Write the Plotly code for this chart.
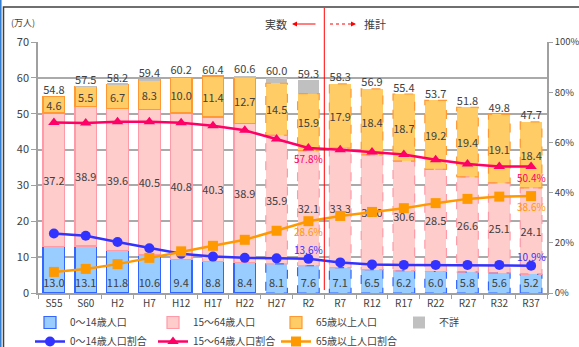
import plotly.graph_objects as go

categories = ["S55", "S60", "H2", "H7", "H12", "H17", "H22", "H27", "R2",
              "R7", "R12", "R17", "R22", "R27", "R32", "R37"]
pop_young = [13.0, 13.1, 11.8, 10.6, 9.4, 8.8, 8.4, 8.1, 7.6, 7.1, 6.5, 6.2, 6.0, 5.8, 5.6, 5.2]
pop_working = [37.2, 38.9, 39.6, 40.5, 40.8, 40.3, 38.9, 35.9, 32.1, 33.3, 32.0, 30.6, 28.5, 26.6, 25.1, 24.1]
pop_elderly = [4.6, 5.5, 6.7, 8.3, 10.0, 11.4, 12.7, 14.5, 15.9, 17.9, 18.4, 18.7, 19.2, 19.4, 19.1, 18.4]
pop_unknown = [0.0, 0.1, 0.3, 0.2, 0.0, 0.0, 0.6, 1.5, 3.7, 0, 0, 0, 0, 0, 0, 0]
pop_total = [54.8, 57.5, 58.2, 59.4, 60.2, 60.4, 60.6, 60.0, 59.3, 58.3, 56.9, 55.4, 53.7, 51.8, 49.8, 47.7]
ratio_young = [23.7, 22.8, 20.3, 17.8, 15.6, 14.5, 14.0, 13.8, 13.6, 12.2, 11.4, 11.2, 11.2, 11.2, 11.2, 10.9]
ratio_working = [67.9, 67.7, 68.2, 68.2, 67.8, 66.6, 64.8, 61.4, 57.8, 57.1, 56.2, 55.2, 53.1, 51.4, 50.4, 50.4]
ratio_elderly = [8.4, 9.6, 11.5, 14.0, 16.6, 18.8, 21.2, 24.8, 28.6, 30.7, 32.3, 33.8, 35.8, 37.5, 38.4, 38.6]
first_dashed = 7  # H27 onward drawn with dashed outlines
labelled_points = [8, 15]

FONT = "Noto Sans CJK JP"
TXT = "#404040"
BW = 0.68
n = len(categories)
xs = list(range(n))

seg_specs = [
    ("0～14歳人口", pop_young, "#99CCFF", "#3366FF", "start"),
    ("15～64歳人口", pop_working, "#FFCCCC", "#FF9AA8", "middle"),
    ("65歳以上人口", pop_elderly, "#FFCC66", "#FF9933", "middle"),
]

fig = go.Figure()
for name, vals, fill, edge, anchor in seg_specs:
    fig.add_trace(go.Bar(
        x=xs, y=vals, name=name, width=BW,
        marker=dict(color=fill, line=dict(color=edge,
                    width=[1.2 if i < first_dashed else 0 for i in xs])),
        text=[f"{v:.1f}" for v in vals], textposition="inside",
        insidetextanchor=anchor, textangle=0,
        textfont=dict(size=11, color=TXT, family=FONT),
        hoverinfo="skip"))
fig.add_trace(go.Bar(
    x=xs, y=pop_unknown, name="不詳", width=BW,
    marker=dict(color="#C0C0C0", line=dict(width=0)), hoverinfo="skip"))

# dashed outlines for projected bars
base = [0.0] * n
for name, vals, fill, edge, anchor in seg_specs:
    px, py = [], []
    for i in xs:
        b, t = base[i], base[i] + vals[i]
        if i >= first_dashed:
            px += [i - BW / 2, i + BW / 2, i + BW / 2, i - BW / 2, i - BW / 2, None]
            py += [b, b, t, t, b, None]
        base[i] = t
    fig.add_trace(go.Scatter(x=px, y=py, mode="lines", showlegend=False,
                             line=dict(color=edge, width=1.2, dash="dash"),
                             hoverinfo="skip"))

# totals
fig.add_trace(go.Scatter(x=xs, y=pop_total, mode="text", showlegend=False,
                         text=[f"{v:.1f}" for v in pop_total], textposition="top center",
                         textfont=dict(size=11, color=TXT, family=FONT), hoverinfo="skip"))

line_specs = [
    ("0～14歳人口割合", ratio_young, "#3333FF", "circle", 9),
    ("15～64歳人口割合", ratio_working, "#FF0066", "triangle-up", -11),
    ("65歳以上人口割合", ratio_elderly, "#FF9900", "square", -10),
]
pct_annotations = []
for name, vals, col, sym, shift in line_specs:
    fig.add_trace(go.Scatter(
        x=xs, y=vals, name=name, yaxis="y2", mode="lines+markers",
        line=dict(color=col, width=2.5),
        marker=dict(symbol=sym, size=10, color=col),
        hoverinfo="skip"))
    for i in labelled_points:
        pct_annotations.append(dict(
            xref="x", yref="y2", x=i, y=vals[i], text=f"{vals[i]:.1f}%",
            showarrow=False, yshift=shift, xanchor="center", yanchor="middle",
            font=dict(size=10, color=col, family=FONT)))

L, R, T, B = 38, 32, 42, 54
W, H = 579, 347
pw, ph = W - L - R, H - T - B
def pxx(p): return (p - L) / pw
def pxy(p): return (H - B - p) / ph

shapes = [
    dict(type="line", xref="x", yref="paper", x0=8.5, x1=8.5, y0=pxy(290), y1=pxy(8),
         line=dict(color="#FF0000", width=1)),
    dict(type="line", xref="paper", yref="paper", x0=pxx(330), x1=pxx(352),
         y0=pxy(24), y1=pxy(24), line=dict(color="#FF0000", width=1, dash="dot")),
    dict(type="rect", xref="paper", yref="paper", x0=pxx(3.5), x1=pxx(600),
         y0=pxy(7), y1=pxy(400), line=dict(color="#404040", width=1.5)),
    dict(type="line", xref="paper", yref="paper", x0=pxx(0.8), x1=pxx(0.8),
         y0=pxy(0), y1=pxy(347), line=dict(color="#2A78D0", width=1.5)),
]
annotations = pct_annotations + [
    dict(xref="paper", yref="paper", x=pxx(289), y=pxy(24), text="実数", showarrow=False,
         xanchor="right", yanchor="middle", font=dict(size=11, color=TXT, family=FONT)),
    dict(xref="paper", yref="paper", x=pxx(292), y=pxy(24), ax=25, ay=0, text="",
         showarrow=True, arrowhead=2, arrowsize=1, arrowwidth=1, arrowcolor="#FF0000"),
    dict(xref="paper", yref="paper", x=pxx(356), y=pxy(24), ax=-5, ay=0, text="",
         showarrow=True, arrowhead=2, arrowsize=1, arrowwidth=1, arrowcolor="#FF0000"),
    dict(xref="paper", yref="paper", x=pxx(362), y=pxy(24), text="推計", showarrow=False,
         xanchor="left", yanchor="middle", font=dict(size=11, color=TXT, family=FONT)),
    dict(xref="paper", yref="paper", x=pxx(9), y=pxy(22), text="(万人)", showarrow=False,
         xanchor="left", yanchor="middle", font=dict(size=9, color=TXT, family=FONT)),
]

fig.update_layout(
    width=W, height=H, margin=dict(l=L, r=R, t=T, b=B, autoexpand=False),
    barmode="stack", bargap=0.3,
    paper_bgcolor="white", plot_bgcolor="white",
    font=dict(family=FONT, size=11, color=TXT),
    showlegend=True, shapes=shapes, annotations=annotations,
    uniformtext=dict(minsize=11, mode="show"),
    legend=dict(orientation="h", x=pxx(30), y=pxy(308), xanchor="left", yanchor="top",
                entrywidth=78, entrywidthmode="pixels", traceorder="normal",
                font=dict(size=10, family=FONT, color=TXT), itemwidth=30,
                bgcolor="rgba(0,0,0,0)", tracegroupgap=0),
    xaxis=dict(range=[-0.5, n - 0.5], tickvals=xs, ticktext=categories, ticks="",
               showline=True, linecolor="#A0A0A0", linewidth=1.5, showgrid=False,
               tickfont=dict(size=10, color=TXT), zeroline=False,
               minor=dict(tick0=-0.5, dtick=1, ticks="outside", ticklen=4,
                          tickcolor="#A0A0A0", showgrid=False)),
    yaxis=dict(range=[0, 70], dtick=10, ticks="outside", ticklen=5, tickcolor="#A0A0A0",
               showline=True, linecolor="#A0A0A0", linewidth=1.5,
               showgrid=True, gridcolor="#AAAAAA", gridwidth=1.5, zeroline=False,
               tickfont=dict(size=11, color=TXT)),
    yaxis2=dict(range=[0, 100], dtick=20, ticksuffix="%", overlaying="y", side="right",
                ticks="outside", ticklen=4, tickcolor="#A0A0A0",
                showline=True, linecolor="#A0A0A0", linewidth=1.5,
                showgrid=False, zeroline=False, tickfont=dict(size=9.5, color=TXT)),
)

fig.write_html("out.html")
